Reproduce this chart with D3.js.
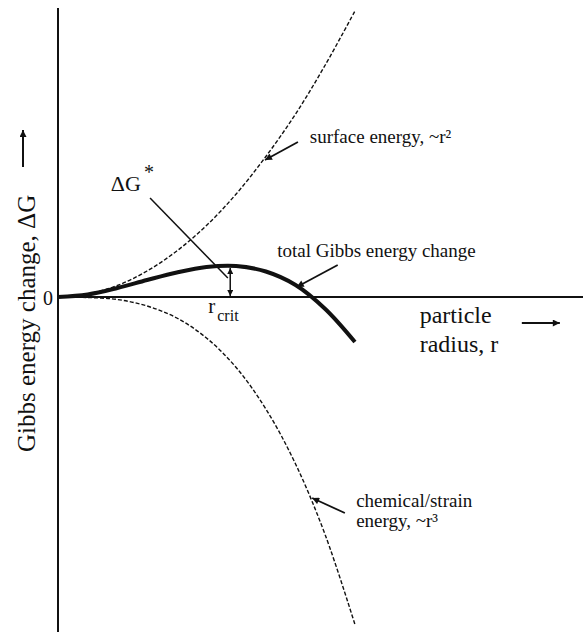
<!DOCTYPE html>
<html>
<head>
<meta charset="utf-8">
<script src="https://cdn.jsdelivr.net/npm/d3@7/dist/d3.min.js"></script>
<style>
  html, body { margin: 0; padding: 0; background: #fff; }
  svg text { font-family: "Liberation Serif", "Times New Roman", serif; fill: #111; }
</style>
</head>
<body>
<svg id="chart" width="583" height="632"></svg>
<script>
// ---- data (r and ΔG in arbitrary units) ----
const radius        = [0, 0.5, 1, 1.5, 2, 2.5, 3, 3.5, 4, 4.5, 5];
const surfaceEnergy = [0, 0.06, 0.23, 0.52, 0.92, 1.43, 2.06, 2.81, 3.66, 4.64, 5.72];
const chemicalEnergy= [0, -0.01, -0.05, -0.18, -0.42, -0.82, -1.41, -2.24, -3.34, -4.76, -6.55];
const totalEnergy   = [0, 0.05, 0.18, 0.34, 0.49, 0.60, 0.62, 0.51, 0.24, -0.24, -0.90];
const rCrit = 2.9;
const deltaGStar = 0.62;
const zeroTickLabel = "0";

const W = 583, H = 632;
const svg = d3.select("#chart");

const x = d3.scaleLinear().domain([0, 8.84]).range([58, 583]);
const y = d3.scaleLinear().domain([-6.7, 5.78]).range([632, 8]);

// arrowhead markers
const defs = svg.append("defs");
function marker(id, w, h) {
  defs.append("marker")
    .attr("id", id)
    .attr("viewBox", "0 0 10 10")
    .attr("refX", 10).attr("refY", 5)
    .attr("markerWidth", w).attr("markerHeight", h)
    .attr("markerUnits", "userSpaceOnUse")
    .attr("orient", "auto-start-reverse")
    .append("path")
    .attr("d", "M0,0 L10,5 L0,10 Z")
    .attr("fill", "#111");
}
marker("ah", 9, 7);
marker("ahs", 8, 6);

// axes
svg.append("line")
  .attr("x1", x(0)).attr("x2", x(0))
  .attr("y1", y(5.78)).attr("y2", y(-6.7))
  .attr("stroke", "#111").attr("stroke-width", 2);
svg.append("line")
  .attr("x1", x(0)).attr("x2", x(8.84))
  .attr("y1", y(0)).attr("y2", y(0))
  .attr("stroke", "#111").attr("stroke-width", 2);

// zero tick label
svg.append("text")
  .attr("x", x(0) - 5).attr("y", y(0) + 8)
  .attr("text-anchor", "end")
  .attr("font-size", 20)
  .text(zeroTickLabel);

// curves
const line = d3.line()
  .x((d, i) => x(radius[i]))
  .y(d => y(d))
  .curve(d3.curveCatmullRom.alpha(0.5));

svg.append("path").datum(surfaceEnergy)
  .attr("d", line).attr("fill", "none")
  .attr("stroke", "#111").attr("stroke-width", 1.4)
  .attr("stroke-dasharray", "4,2");
svg.append("path").datum(chemicalEnergy)
  .attr("d", line).attr("fill", "none")
  .attr("stroke", "#111").attr("stroke-width", 1.4)
  .attr("stroke-dasharray", "4,2");
svg.append("path").datum(totalEnergy)
  .attr("d", line).attr("fill", "none")
  .attr("stroke", "#111").attr("stroke-width", 4)
  .attr("stroke-linecap", "butt");

// r_crit double arrow
svg.append("line")
  .attr("x1", x(rCrit)).attr("x2", x(rCrit))
  .attr("y1", y(deltaGStar) + 2).attr("y2", y(0) - 1)
  .attr("stroke", "#111").attr("stroke-width", 1.5)
  .attr("marker-start", "url(#ahs)")
  .attr("marker-end", "url(#ahs)");

// r_crit label
const rc = svg.append("text")
  .attr("x", x(2.53)).attr("y", y(-0.32))
  .attr("font-size", 21);
rc.append("tspan").text("r");
rc.append("tspan").attr("font-size", 16).attr("dy", 8).attr("dx", 2).text("crit");

// ΔG* label and leader line
const dg = svg.append("text")
  .attr("x", x(0.89)).attr("y", y(2.12))
  .attr("font-size", 22);
dg.append("tspan").text("ΔG");
dg.append("tspan").attr("dy", -12).attr("dx", 3).attr("font-size", 20).text("*");
svg.append("line")
  .attr("x1", x(1.55)).attr("y1", y(1.98))
  .attr("x2", x(2.86)).attr("y2", y(0.38))
  .attr("stroke", "#111").attr("stroke-width", 1.5);

// surface energy label
svg.append("text")
  .attr("x", x(4.24)).attr("y", y(3.08))
  .attr("font-size", 19)
  .text("surface energy, ~r²");
svg.append("line")
  .attr("x1", x(4.04)).attr("y1", y(3.10))
  .attr("x2", x(3.485)).attr("y2", y(2.74))
  .attr("stroke", "#111").attr("stroke-width", 1.8)
  .attr("marker-end", "url(#ah)");

// total label
svg.append("text")
  .attr("x", x(3.69)).attr("y", y(0.80))
  .attr("font-size", 19)
  .text("total Gibbs energy change");
svg.append("line")
  .attr("x1", x(4.71)).attr("y1", y(0.64))
  .attr("x2", x(4.02)).attr("y2", y(0.20))
  .attr("stroke", "#111").attr("stroke-width", 1.8)
  .attr("marker-end", "url(#ah)");

// chemical label
const ch = svg.append("text")
  .attr("x", x(5.02)).attr("y", y(-4.2))
  .attr("font-size", 19);
ch.append("tspan").attr("x", x(5.02)).text("chemical/strain");
ch.append("tspan").attr("x", x(5.02)).attr("dy", 20).text("energy, ~r³");
svg.append("line")
  .attr("x1", x(4.83)).attr("y1", y(-4.32))
  .attr("x2", x(4.28)).attr("y2", y(-4.02))
  .attr("stroke", "#111").attr("stroke-width", 1.8)
  .attr("marker-end", "url(#ah)");

// x axis title
const xt = svg.append("text").attr("font-size", 24);
xt.append("tspan").attr("x", x(6.09)).attr("y", y(-0.52)).text("particle");
xt.append("tspan").attr("x", x(6.09)).attr("y", y(-1.1)).text("radius, r");
svg.append("line")
  .attr("x1", x(7.81)).attr("x2", x(8.45))
  .attr("y1", y(-0.52)).attr("y2", y(-0.52))
  .attr("stroke", "#111").attr("stroke-width", 2)
  .attr("marker-end", "url(#ah)");

// y axis title
svg.append("text")
  .attr("transform", "translate(35,452) rotate(-90)")
  .attr("text-anchor", "start")
  .attr("font-size", 25)
  .text("Gibbs energy change, ΔG");
svg.append("line")
  .attr("x1", 23).attr("x2", 23)
  .attr("y1", 167).attr("y2", 130)
  .attr("stroke", "#111").attr("stroke-width", 2)
  .attr("marker-end", "url(#ah)");
</script>
</body>
</html>
